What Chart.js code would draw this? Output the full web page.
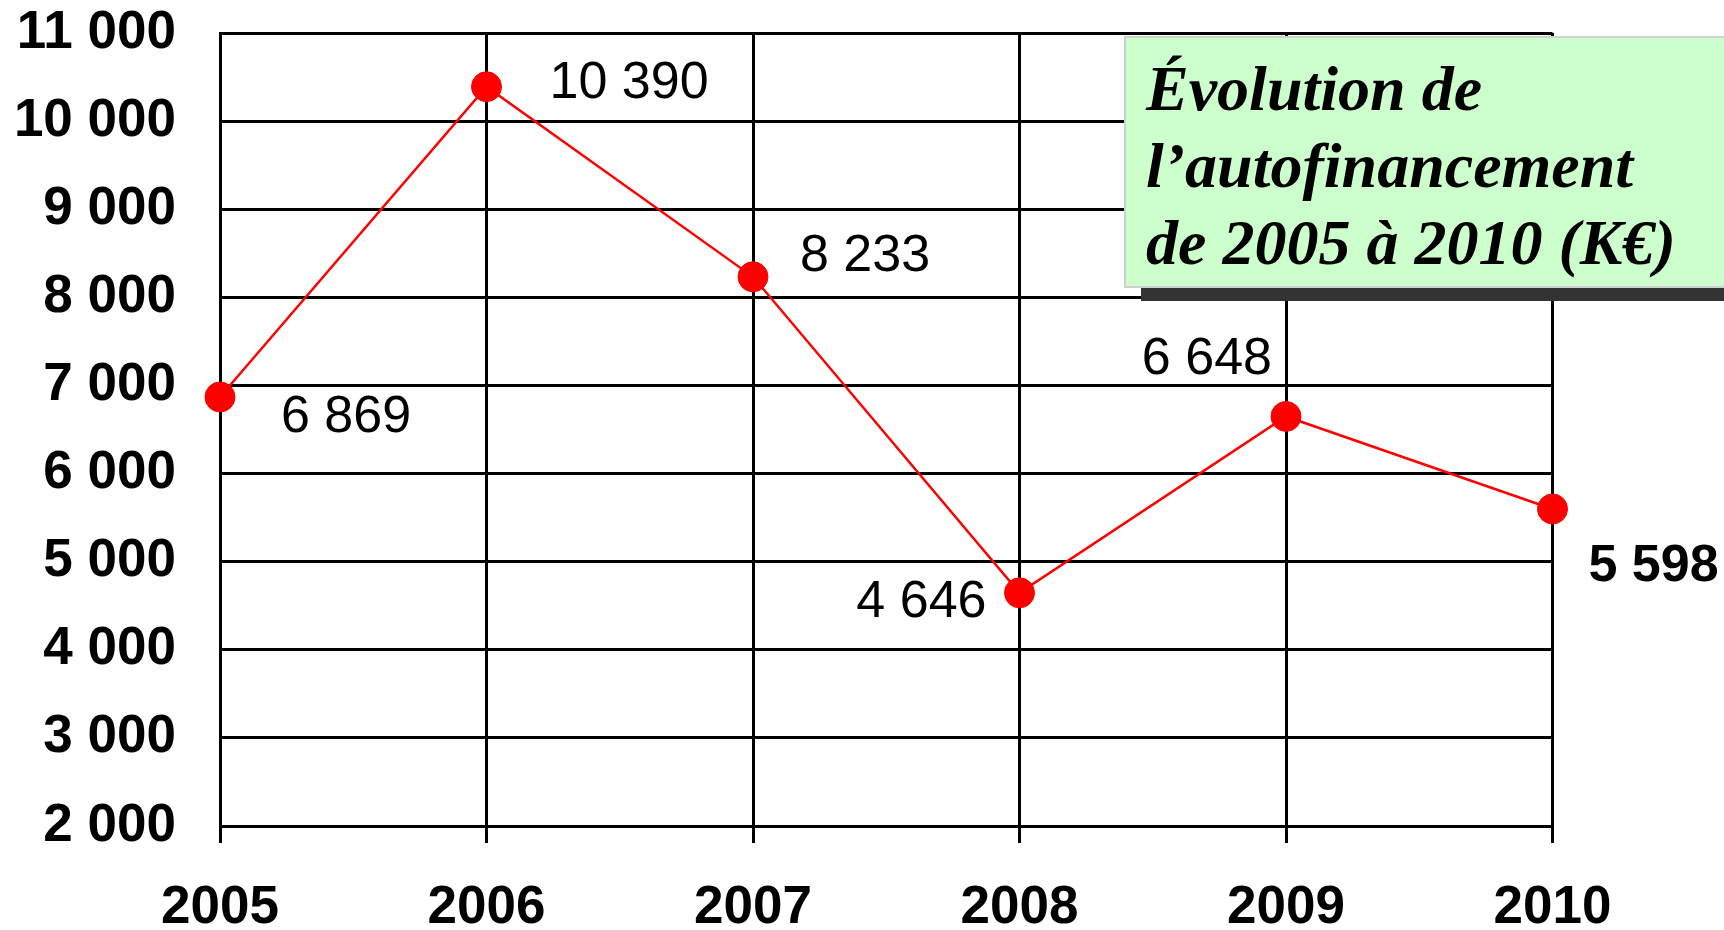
<!DOCTYPE html>
<html><head><meta charset="utf-8">
<script src="https://cdn.jsdelivr.net/npm/chart.js@4"></script>
<style>html,body{margin:0;padding:0;background:#fff;overflow:hidden}#wrap{width:1724px;height:930px;position:relative}canvas{display:block}</style>
</head><body><div id="wrap"><canvas id="c" width="1724" height="930"></canvas></div>
<script>
const categories = ['2005', '2006', '2007', '2008', '2009', '2010'];
const values = [6869, 10390, 8233, 4646, 6648, 5598];
const valueLabels = ['6 869', '10 390', '8 233', '4 646', '6 648', '5 598'];
const yTickValues = [2000, 3000, 4000, 5000, 6000, 7000, 8000, 9000, 10000, 11000];
const yTickLabels = ['2 000', '3 000', '4 000', '5 000', '6 000', '7 000', '8 000', '9 000', '10 000', '11 000'];
const titleLines = ['Évolution de', 'l’autofinancement', 'de 2005 à 2010 (K€)'];

// label placement relative to each point: [align, dx, dy(center), bold]
const labelPlacement = [
  ['left', 61, 16, false],
  ['left', 63, -7, false],
  ['left', 47, -24, false],
  ['right', -33, 6, false],
  ['right', -14, -61, false],
  ['left', 36, 53, true]
];

const SANS = '"Liberation Sans", Arial, sans-serif';

const labelPlugin = {
  id: 'valueLabels',
  afterDatasetsDraw(chart) {
    const ctx = chart.ctx;
    const meta = chart.getDatasetMeta(0);
    ctx.save();
    ctx.fillStyle = '#000';
    ctx.textBaseline = 'alphabetic';
    meta.data.forEach((pt, i) => {
      const [align, dx, dy, bold] = labelPlacement[i];
      ctx.font = (bold ? 'bold ' : '') + '52px ' + SANS;
      ctx.textAlign = align;
      ctx.fillText(valueLabels[i], pt.x + dx, pt.y + dy + 18.6);
    });
    ctx.restore();
  }
};

const titlePlugin = {
  id: 'titleBox',
  afterDraw(chart) {
    const ctx = chart.ctx;
    ctx.save();
    const bx = 1125, by = 37, bw = 700, bh = 250;
    ctx.fillStyle = '#333333';
    ctx.fillRect(bx + 16, by + 14, bw, bh);
    ctx.fillStyle = '#ccffcc';
    ctx.fillRect(bx, by, bw, bh);
    ctx.strokeStyle = '#d0d0d0';
    ctx.lineWidth = 2;
    ctx.strokeRect(bx, by, bw, bh);
    ctx.fillStyle = '#000';
    ctx.font = 'italic bold 64px "Liberation Serif", "Times New Roman", serif';
    ctx.textAlign = 'left';
    ctx.textBaseline = 'alphabetic';
    titleLines.forEach((t, i) => ctx.fillText(t, 1146, 110 + i * 77));
    ctx.restore();
  }
};

new Chart(document.getElementById('c'), {
  type: 'line',
  data: {
    labels: categories,
    datasets: [{
      data: values,
      borderColor: '#ff0000',
      borderWidth: 2.5,
      backgroundColor: '#ff0000',
      pointBackgroundColor: '#ff0000',
      pointBorderColor: '#ff0000',
      pointRadius: 15,
      pointBorderWidth: 1,
      tension: 0,
      fill: false,
      clip: false
    }]
  },
  options: {
    responsive: false,
    animation: false,
    devicePixelRatio: 1,
    layout: { padding: { top: 33, right: 171.5, bottom: 0, left: 0 } },
    plugins: { legend: { display: false }, tooltip: { enabled: false }, title: { display: false } },
    scales: {
      x: {
        type: 'category',
        offset: false,
        grid: { color: '#000', lineWidth: 3, tickLength: 17, drawTicks: true },
        border: { display: true, color: '#000', width: 3 },
        ticks: { color: '#000', font: { family: SANS, size: 53, weight: 'bold' }, padding: 34, maxRotation: 0, autoSkip: false },
        afterFit(s) { s.height = 104; }
      },
      y: {
        min: 2000, max: 11000,
        grid: { color: '#000', lineWidth: 3, drawTicks: true, tickLength: 44, tickColor: 'rgba(0,0,0,0)' },
        border: { display: true, color: '#000', width: 3 },
        ticks: {
          stepSize: 1000,
          color: '#000',
          padding: 0,
          font: { family: SANS, size: 53, weight: 'bold', lineHeight: 1.1 },
          callback: (v) => { const k = yTickValues.indexOf(v); return k >= 0 ? yTickLabels[k] : ''; }
        },
        afterFit(s) { s.width = 220; }
      }
    }
  },
  plugins: [labelPlugin, titlePlugin]
});
</script>
</body></html>
